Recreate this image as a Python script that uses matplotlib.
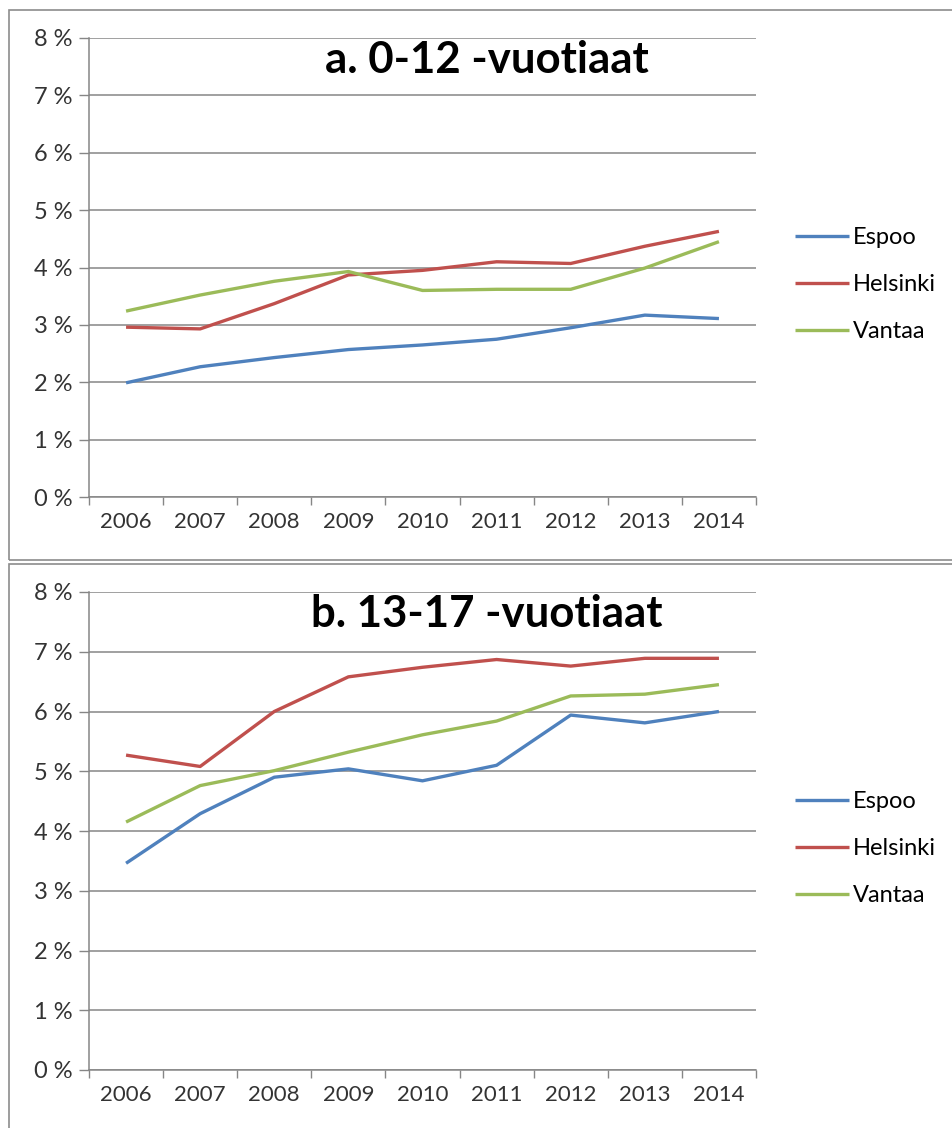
import matplotlib
matplotlib.use('Agg')
import matplotlib.pyplot as plt
import numpy as np
from matplotlib.patches import Rectangle

plt.rcParams['font.family'] = ['Lato', 'DejaVu Sans']

years = ['2006', '2007', '2008', '2009', '2010', '2011', '2012', '2013', '2014']
cities = ['Espoo', 'Helsinki', 'Vantaa']
colors = ['#4F81BD', '#C0504D', '#9BBB59']

# a. 0-12 year olds (percent)
espoo_a = [1.99, 2.27, 2.43, 2.57, 2.65, 2.75, 2.95, 3.17, 3.11]
helsinki_a = [2.96, 2.93, 3.37, 3.87, 3.95, 4.10, 4.07, 4.37, 4.63]
vantaa_a = [3.24, 3.52, 3.76, 3.93, 3.60, 3.62, 3.62, 3.99, 4.45]

# b. 13-17 year olds (percent)
espoo_b = [3.46, 4.29, 4.90, 5.04, 4.84, 5.10, 5.94, 5.81, 6.00]
helsinki_b = [5.27, 5.08, 6.00, 6.58, 6.74, 6.87, 6.76, 6.89, 6.89]
vantaa_b = [4.15, 4.76, 5.01, 5.32, 5.61, 5.84, 6.26, 6.29, 6.45]

titles = ['a. 0-12 -vuotiaat', 'b. 13-17 -vuotiaat']
panels = [[espoo_a, helsinki_a, vantaa_a], [espoo_b, helsinki_b, vantaa_b]]

W, H = 953, 1128
fig = plt.figure(figsize=(W / 100, H / 100), dpi=100)

# axes boxes in pixels: left, top, right, bottom
boxes = [(89, 38, 756, 497), (89, 592, 756, 1070)]
title_y = [60, 614]
frames = [(9, 10, 1000, 560), (9, 564, 1000, 1140)]

grey = '#868686'
for k in range(2):
    fx0, fy0, fx1, fy1 = frames[k]
    fig.patches.append(Rectangle((fx0 / W, 1 - fy1 / H), (fx1 - fx0) / W, (fy1 - fy0) / H,
                                 transform=fig.transFigure, fill=False,
                                 edgecolor='#8c8c8c', linewidth=1.2))

    l, t, r, b = boxes[k]
    ax = fig.add_axes([l / W, 1 - b / H, (r - l) / W, (b - t) / H])
    x = np.arange(len(years))
    for i in range(3):
        ax.plot(x, panels[k][i], color=colors[i], linewidth=2.4, label=cities[i],
                solid_capstyle='butt')

    ax.set_xlim(-0.5, len(years) - 0.5)
    ax.set_ylim(0, 8)
    ax.set_yticks(np.arange(0, 9, 1))
    ax.set_yticklabels(['{} %'.format(v) for v in range(9)])
    ax.set_xticks(x)
    ax.set_xticklabels(years)
    ax.set_xticks(np.arange(-0.5, len(years), 1), minor=True)
    ax.tick_params(axis='x', which='major', length=0, pad=11, labelsize=16, labelcolor='#333333')
    ax.tick_params(axis='x', which='minor', length=6, width=1, color=grey, direction='out')
    ax.tick_params(axis='y', length=7, width=1, color=grey, pad=5, labelsize=17, labelcolor='#333333')
    ax.grid(axis='y', color=grey, linewidth=1.1)
    ax.set_axisbelow(True)
    for s in ['top', 'right']:
        ax.spines[s].set_visible(False)
    for s in ['left', 'bottom']:
        ax.spines[s].set_color(grey)
        ax.spines[s].set_linewidth(1.1)

    ax.legend(loc='center left', bbox_to_anchor=((795 - l) / (r - l), 0.463),
              frameon=False, fontsize=17, handlelength=2.3, handletextpad=0.15,
              labelspacing=1.1, borderpad=0, borderaxespad=0)

    fig.text(487 / W, 1 - title_y[k] / H, titles[k], ha='center', va='center',
             fontsize=31.5, fontweight='bold', color='black')

fig.savefig('out.png', dpi=100, facecolor='white')
